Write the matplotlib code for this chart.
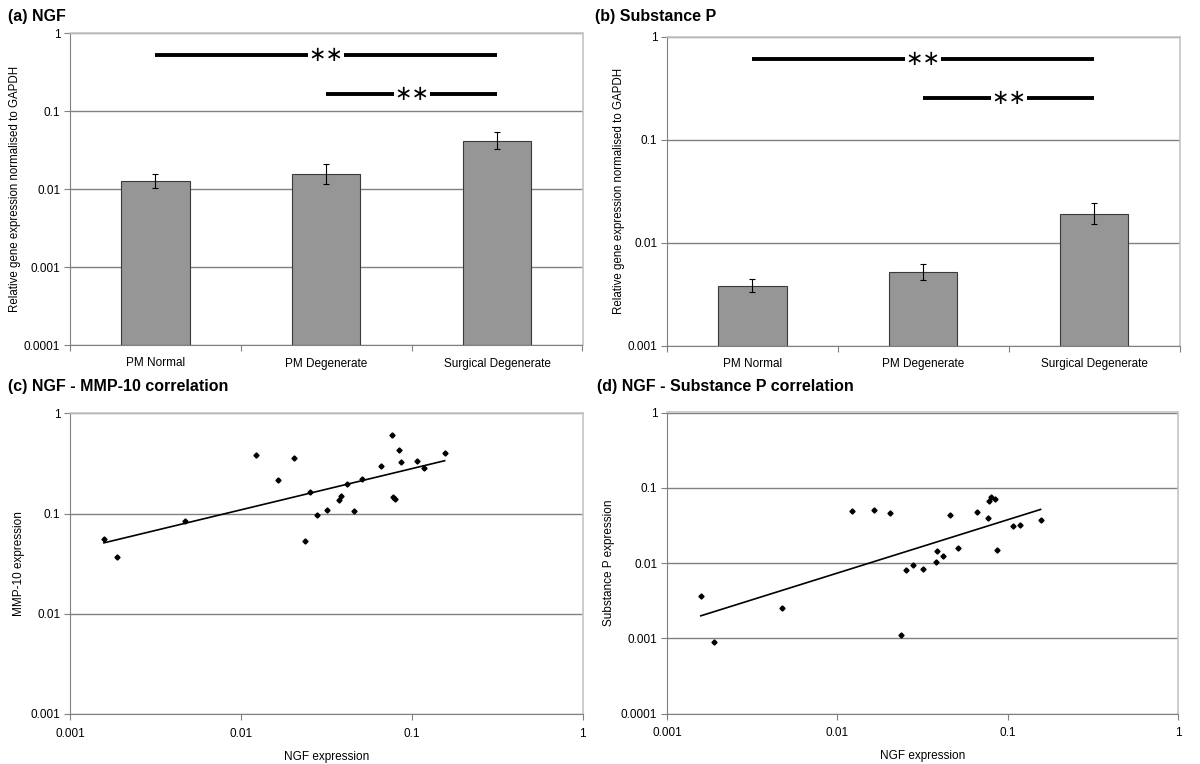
import numpy as np
import matplotlib
matplotlib.use("Agg")
import matplotlib.pyplot as plt
from matplotlib.ticker import FixedLocator, NullLocator, NullFormatter

plt.rcParams['font.family'] = ['Liberation Sans', 'DejaVu Sans']

# bar charts (a) NGF, (b) Substance P
groups = ['PM Normal', 'PM Degenerate', 'Surgical Degenerate']
ngf_mean = [0.0127, 0.0156, 0.042]
ngf_lo = [0.0103, 0.0116, 0.0326]
ngf_hi = [0.0156, 0.0209, 0.054]
sp_mean = [0.00384, 0.00517, 0.0191]
sp_lo = [0.00329, 0.0043, 0.0153]
sp_hi = [0.0044, 0.00627, 0.0243]

# scatter (c), (d): NGF vs MMP-10 / Substance P
ngf_expr = [0.00158, 0.00189, 0.00474, 0.0122, 0.0164, 0.0205, 0.0237, 0.0254,
            0.0278, 0.032, 0.0377, 0.0384, 0.0417, 0.0457, 0.0513, 0.0665,
            0.0771, 0.078, 0.0795, 0.0843, 0.0865, 0.1075, 0.1175, 0.156]
mmp10_expr = [0.0553, 0.0366, 0.0843, 0.387, 0.218, 0.356, 0.0528, 0.163,
              0.0975, 0.109, 0.1355, 0.1486, 0.199, 0.105, 0.223, 0.30,
              0.608, 0.145, 0.139, 0.431, 0.327, 0.332, 0.287, 0.399]
subp_expr = [0.00368, 0.000898, 0.00252, 0.0492, 0.0502, 0.0463, 0.00109, 0.00815,
             0.0093, 0.00824, 0.0104, 0.0146, 0.0125, 0.0435, 0.0158, 0.0482,
             0.0397, 0.0675, 0.0755, 0.0703, 0.0149, 0.031, 0.0323, 0.037]

GRID = '#808080'
BORDER = '#c4c4c4'
FS = 8.5

fig = plt.figure(figsize=(12, 7.64), dpi=100)


def style_axes(ax, yticks):
    ax.set_yscale('log')
    ax.set_ylim(yticks[0], yticks[-1])
    ax.yaxis.set_major_locator(FixedLocator(yticks))
    ax.yaxis.set_minor_locator(NullLocator())
    ax.set_yticklabels([('%g' % t) if t >= 0.001 else '%.4f' % t for t in yticks])
    ax.set_axisbelow(True)
    ax.grid(axis='y', color=GRID, lw=1)
    for s in ['top', 'right']:
        ax.spines[s].set_color(BORDER)
        ax.spines[s].set_linewidth(1.2)
    for s in ['left', 'bottom']:
        ax.spines[s].set_color(GRID)
    ax.tick_params(axis='both', which='major', direction='out', length=4,
                   color=GRID, labelsize=FS, pad=3)


def bar_panel(rect, means, lo, hi, yticks, sig, title, tx):
    ax = fig.add_axes(rect)
    style_axes(ax, yticks)
    x = np.arange(len(groups))
    m = np.array(means)
    ax.bar(x, m - yticks[0], bottom=yticks[0], width=0.4, color='#969696',
           edgecolor='#3a3a3a', lw=0.8, zorder=2)
    ax.errorbar(x, m, yerr=[m - np.array(lo), np.array(hi) - m], fmt='none',
                ecolor='black', elinewidth=0.8, capsize=2, capthick=0.8, zorder=3)
    ax.set_xlim(-0.5, 2.5)
    ax.xaxis.set_major_locator(FixedLocator([-0.5, 0.5, 1.5, 2.5]))
    ax.xaxis.set_major_formatter(NullFormatter())
    ax.set_xticks(x, minor=True)
    ax.set_xticklabels(groups, minor=True)
    ax.tick_params(axis='x', which='minor', length=0, labelsize=FS, pad=9)
    ax.set_ylabel('Relative gene expression normalised to GAPDH', fontsize=8.3,
                  labelpad=2)
    for x0, x1, yy in sig:
        ax.plot([x0, x1], [yy, yy], color='black', lw=2.8, solid_capstyle='butt', zorder=4)
        ax.text((x0 + x1) / 2, yy, '\u2217\u2217', ha='center', va='center',
                fontsize=15, family='DejaVu Sans', zorder=5,
                bbox=dict(facecolor='white', edgecolor='none', pad=0.5))
    fig.text(tx, 1 - 17 / 764, title, fontsize=11.5, fontweight='bold', va='center')
    return ax


def scatter_panel(rect, yvals, yticks, ylabel, title, tx):
    ax = fig.add_axes(rect)
    style_axes(ax, yticks)
    ax.set_xscale('log')
    ax.set_xlim(0.001, 1)
    ax.xaxis.set_major_locator(FixedLocator([0.001, 0.01, 0.1, 1]))
    ax.xaxis.set_minor_locator(NullLocator())
    ax.set_xticklabels(['0.001', '0.01', '0.1', '1'])
    ax.tick_params(axis='x', pad=6)
    xs = np.array(ngf_expr)
    ys = np.array(yvals)
    ax.plot(xs, ys, 'D', color='black', ms=2.6, zorder=3)
    # power trendline
    k, b = np.polyfit(np.log10(xs), np.log10(ys), 1)
    xl = np.array([xs.min(), xs.max()])
    ax.plot(xl, 10 ** (k * np.log10(xl) + b), color='black', lw=1.2, zorder=3)
    ax.set_xlabel('NGF expression', fontsize=FS, labelpad=8)
    ax.set_ylabel(ylabel, fontsize=FS)
    fig.text(tx, 1 - 387 / 764, title, fontsize=11.5, fontweight='bold', va='center')
    return ax


bar_panel([70 / 1200, 1 - 345 / 764, 512.5 / 1200, 311.7 / 764], ngf_mean, ngf_lo, ngf_hi,
          [0.0001, 0.001, 0.01, 0.1, 1], [(0, 2, 0.527), (1, 2, 0.167)],
          '(a) NGF', 8 / 1200)
bar_panel([667 / 1200, 1 - 345.7 / 764, 512.5 / 1200, 309 / 764], sp_mean, sp_lo, sp_hi,
          [0.001, 0.01, 0.1, 1], [(0, 2, 0.605), (1, 2, 0.256)],
          '(b) Substance P', 595 / 1200)
scatter_panel([70 / 1200, 1 - 714 / 764, 512.5 / 1200, 300.7 / 764], mmp10_expr,
              [0.001, 0.01, 0.1, 1], 'MMP-10 expression',
              '(c) NGF - MMP-10 correlation', 8 / 1200)
scatter_panel([667 / 1200, 1 - 713.5 / 764, 511 / 1200, 301 / 764], subp_expr,
              [0.0001, 0.001, 0.01, 0.1, 1], 'Substance P expression',
              '(d) NGF - Substance P correlation', 597 / 1200)

fig.savefig('out.png', dpi=100)
